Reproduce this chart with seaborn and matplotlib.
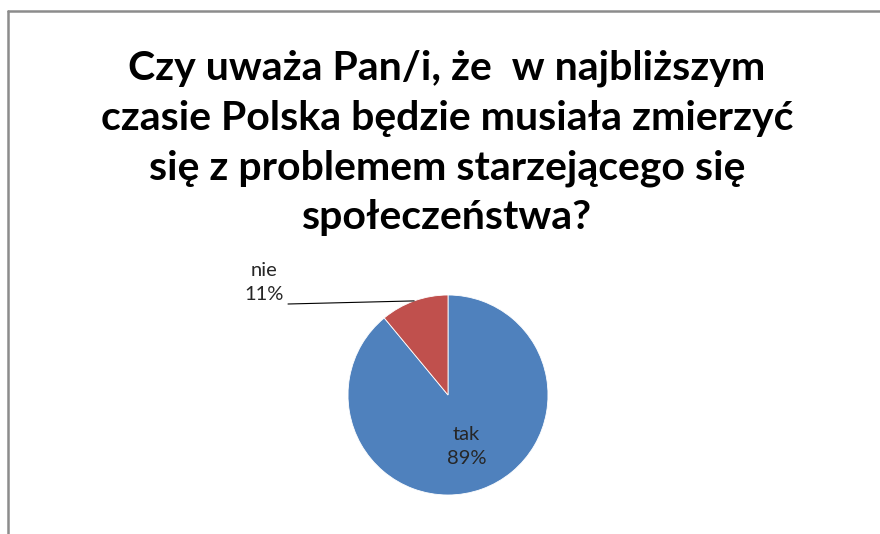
import numpy as np
import matplotlib
matplotlib.use("Agg")
import matplotlib.pyplot as plt
from matplotlib.lines import Line2D
import seaborn as sns

# Survey answers
categories = ["tak", "nie"]
shares = [89, 11]
title_lines = [
    "Czy uważa Pan/i, że  w najbliższym",
    "czasie Polska będzie musiała zmierzyć",
    "się z problemem starzejącego się",
    "społeczeństwa?",
]

sns.set_theme(style="white")
plt.rcParams["font.family"] = ["Lato", "DejaVu Sans"]

palette = ["#4F81BD", "#C0504D"]

W, H = 880, 534
fig = plt.figure(figsize=(W / 100, H / 100), dpi=100)
fig.patch.set_facecolor("white")

# chart frame (top and left edges visible)
frame_kw = dict(color="#8c8c8c", lw=1.8, transform=fig.transFigure)
fig.add_artist(Line2D([8 / W, 1.0], [1 - 11 / H, 1 - 11 / H], **frame_kw))
fig.add_artist(Line2D([8 / W, 8 / W], [0.0, 1 - 11 / H], **frame_kw))

# title
fig.text(447 / W, 1 - 143 / H, "\n".join(title_lines), ha="center", va="center",
         fontsize=29.5, fontweight="bold", color="black", linespacing=1.42)

# pie axes: centre (448, 395) px, radius 100 px
cx, cy, r = 448, 395, 100
ax = fig.add_axes([(cx - r) / W, (H - cy - r) / H, 2 * r / W, 2 * r / H])
wedges, _ = ax.pie(shares, colors=palette, startangle=90, counterclock=False,
                   wedgeprops=dict(linewidth=0.6, edgecolor="white"))
ax.set_xlim(-1, 1)
ax.set_ylim(-1, 1)
ax.set_aspect("equal")
ax.axis("off")

lab_kw = dict(fontsize=14.5, color="#262626", ha="center", va="center",
              linespacing=1.5)

# "tak" label inside its wedge
w = wedges[0]
mid = np.deg2rad((w.theta1 + w.theta2) / 2)
ax.text(0.55 * np.cos(mid), 0.55 * np.sin(mid),
        f"{categories[0]}\n{shares[0]}%", **lab_kw)

# "nie" label outside with a leader line
w = wedges[1]
mid = np.deg2rad((w.theta1 + w.theta2) / 2)
ax.text(-1.84, 1.12, f"{categories[1]}\n{shares[1]}%", clip_on=False, **lab_kw)
ax.add_line(Line2D([-1.60, np.cos(mid)], [0.91, np.sin(mid)],
                   color="black", lw=0.8, clip_on=False))

fig.savefig("out.png", dpi=100, facecolor="white")
